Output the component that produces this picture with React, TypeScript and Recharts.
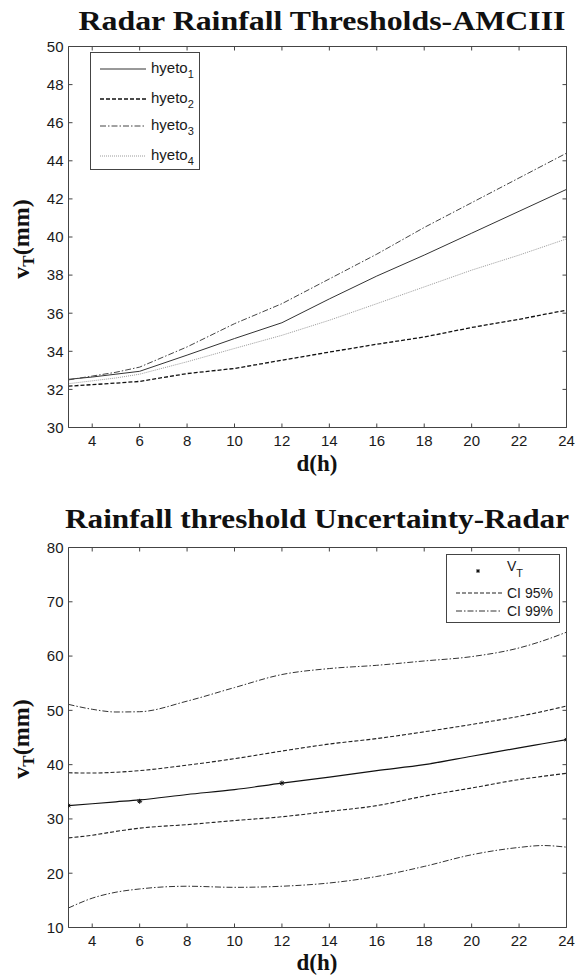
import React from 'react';
import { LineChart, Line, XAxis, YAxis, Legend } from 'recharts';

// Radar rainfall thresholds (AMC III) per hyetograph shape, mm vs duration
const hours = [3, 4, 5, 6, 8, 10, 12, 14, 16, 18, 20, 22, 24];
const hyeto1 = [32.53, 32.65, 32.8, 32.95, 33.8, 34.67, 35.5, 36.75, 37.95, 39.05, 40.2, 41.35, 42.5];
const hyeto2 = [32.17, 32.25, 32.33, 32.42, 32.83, 33.1, 33.53, 33.96, 34.37, 34.75, 35.25, 35.68, 36.16];
const hyeto3 = [32.5, 32.7, 32.9, 33.17, 34.23, 35.45, 36.5, 37.8, 39.1, 40.5, 41.8, 43.1, 44.4];
const hyeto4 = [32.3, 32.45, 32.6, 32.8, 33.45, 34.15, 34.84, 35.63, 36.5, 37.38, 38.26, 39.05, 39.9];

// Threshold uncertainty: fitted curve and confidence bands
const bandHours = [3, 4, 5, 6, 8, 10, 12, 14, 16, 18, 20, 22, 23, 24];
const vtFit = [32.45, 32.8, 33.15, 33.5, 34.5, 35.4, 36.6, 37.7, 38.9, 40.0, 41.55, 43.1, 43.85, 44.6];
const ci95Upper = [38.5, 38.45, 38.6, 38.9, 39.9, 41.1, 42.5, 43.8, 44.8, 46.05, 47.4, 48.9, 49.8, 50.8];
const ci95Lower = [26.5, 27.0, 27.7, 28.3, 28.95, 29.7, 30.4, 31.4, 32.45, 34.2, 35.7, 37.25, 37.85, 38.4];
const ci99Upper = [51.1, 50.2, 49.7, 49.75, 51.7, 54.2, 56.6, 57.7, 58.3, 59.1, 59.9, 61.5, 62.8, 64.4];
const ci99Lower = [13.6, 15.4, 16.5, 17.1, 17.6, 17.4, 17.6, 18.2, 19.4, 21.25, 23.4, 24.75, 25.1, 24.8];

// Observed thresholds
const vtHours = [3, 6, 12, 24];
const vtValues = [32.45, 33.25, 36.6, 44.6];

const dTicks = [4, 6, 8, 10, 12, 14, 16, 18, 20, 22, 24];
const topTicks = [30, 32, 34, 36, 38, 40, 42, 44, 46, 48, 50];
const bottomTicks = [10, 20, 30, 40, 50, 60, 70, 80];

const thresholdRows = hours.map((d, i) => ({
  d,
  h1: hyeto1[i],
  h2: hyeto2[i],
  h3: hyeto3[i],
  h4: hyeto4[i],
}));

const bandRows = bandHours.map((d, i) => ({
  d,
  fit: vtFit[i],
  u95: ci95Upper[i],
  l95: ci95Lower[i],
  u99: ci99Upper[i],
  l99: ci99Lower[i],
}));

const vtRows = vtHours.map((d, i) => ({ d, vt: vtValues[i] }));

const FRAME = '#444';
const TICK_FONT = { fill: '#1a1a1a', fontSize: 15, fontFamily: 'Liberation Sans, Arial, sans-serif' };
const SERIF = 'Liberation Serif, Times New Roman, serif';
const TICK_PX = 4;

// plot box edges (page pixels), shared by the charts and the frame overlay
const PLOT_LEFT = 68.5;
const PLOT_RIGHT = 566.5;
const TOP_BOX = { top: 46.5, bottom: 427.5 };
const BOTTOM_BOX = { top: 547.5, bottom: 927.5 };

const styles = {
  h1: { stroke: '#333', dash: undefined as string | undefined, width: 1 },
  h2: { stroke: '#111', dash: '4 2', width: 1.3 },
  h3: { stroke: '#444', dash: '6 2 1.5 2', width: 1 },
  h4: { stroke: '#9a9a9a', dash: '1 1', width: 1 },
  ci95: { stroke: '#222', dash: '4 2', width: 1.1 },
  ci99: { stroke: '#333', dash: '6 2 1.5 2', width: 1 },
};

// bottom and left axes, ticks pointing into the plot
function axes(yDomain: number[], yTicks: number[]) {
  return [
    <XAxis
      key="xb"
      dataKey="d"
      type="number"
      domain={[3, 24]}
      ticks={dTicks}
      allowDataOverflow
      height={30}
      tickSize={-TICK_PX}
      tickMargin={12}
      tick={TICK_FONT}
      axisLine={{ stroke: FRAME }}
      tickLine={{ stroke: FRAME }}
    />,
    <YAxis
      key="yl"
      type="number"
      domain={yDomain}
      ticks={yTicks}
      allowDataOverflow
      width={60}
      tickSize={-TICK_PX}
      tickMargin={9}
      tick={TICK_FONT}
      axisLine={{ stroke: FRAME }}
      tickLine={{ stroke: FRAME }}
    />,
  ];
}

// top and right edges of a plot box, with inward ticks like the axes
function BoxEdges({ top, bottom, yDomain, yTicks }: { top: number; bottom: number; yDomain: number[]; yTicks: number[] }) {
  const xPx = (t: number) => PLOT_LEFT + ((t - 3) / 21) * (PLOT_RIGHT - PLOT_LEFT);
  const yPx = (v: number) => bottom - ((v - yDomain[0]) / (yDomain[1] - yDomain[0])) * (bottom - top);
  return (
    <g stroke={FRAME} strokeWidth={1} fill="none">
      <path d={`M${PLOT_LEFT},${top}H${PLOT_RIGHT}V${bottom}`} />
      {dTicks.map((t) => (
        <line key={`t${t}`} x1={xPx(t)} x2={xPx(t)} y1={top} y2={top + TICK_PX} />
      ))}
      {yTicks.map((v) => (
        <line key={`r${v}`} x1={PLOT_RIGHT} x2={PLOT_RIGHT - TICK_PX} y1={yPx(v)} y2={yPx(v)} />
      ))}
    </g>
  );
}

function Asterisk({ cx, cy, r = 2.5 }: { cx: number; cy: number; r?: number }) {
  const d = r * 0.7;
  return (
    <path
      d={`M${cx - r},${cy}L${cx + r},${cy}M${cx},${cy - r}L${cx},${cy + r}M${cx - d},${cy - d}L${cx + d},${cy + d}M${cx - d},${cy + d}L${cx + d},${cy - d}`}
      stroke="#111"
      strokeWidth={1}
      fill="none"
    />
  );
}

function Sample({ y, s }: { y: number; s: { stroke: string; dash?: string; width: number } }) {
  return <line x1={9} x2={55} y1={y} y2={y} stroke={s.stroke} strokeDasharray={s.dash} strokeWidth={s.width} />;
}

function HyetoLegend() {
  const rows: [string, keyof typeof styles, number][] = [
    ['1', 'h1', 16],
    ['2', 'h2', 46],
    ['3', 'h3', 73],
    ['4', 'h4', 103],
  ];
  return (
    <svg width={110} height={118} style={{ display: 'block', background: '#fff', border: `1px solid ${FRAME}`, boxSizing: 'border-box' }}>
      {rows.map(([n, k, y]) => (
        <g key={k}>
          <Sample y={y} s={styles[k]} />
          <text x={60} y={y + 4} fontSize={15} fontFamily="Liberation Sans, Arial, sans-serif" fill="#1a1a1a">
            hyeto
            <tspan fontSize={11} dy={5}>{n}</tspan>
          </text>
        </g>
      ))}
    </svg>
  );
}

function BandLegend() {
  const font = 'Liberation Sans, Arial, sans-serif';
  return (
    <svg width={114} height={69} style={{ display: 'block', background: '#fff', border: `1px solid ${FRAME}`, boxSizing: 'border-box' }}>
      <Asterisk cx={31} cy={16} r={2} />
      <text x={60} y={16} fontSize={14} fontFamily={font} fill="#1a1a1a">
        V
        <tspan fontSize={11} dy={6}>T</tspan>
      </text>
      <Sample y={38} s={styles.ci95} />
      <text x={60} y={43} fontSize={14} fontFamily={font} fill="#1a1a1a">CI 95%</text>
      <Sample y={56} s={styles.ci99} />
      <text x={60} y={61} fontSize={14} fontFamily={font} fill="#1a1a1a">CI 99%</text>
    </svg>
  );
}

function Overlay() {
  const yLabel = (cy: number) => (
    <text transform={`translate(29,${cy}) rotate(-90)`} textAnchor="middle" fontSize={24} fontWeight="bold" fontFamily={SERIF} fill="#111">
      v<tspan fontSize={17} dy={5}>T</tspan>
      <tspan dy={-5}>(mm)</tspan>
    </text>
  );
  return (
    <svg width={575} height={976} style={{ position: 'absolute', left: 0, top: 0, pointerEvents: 'none' }}>
      <BoxEdges top={TOP_BOX.top} bottom={TOP_BOX.bottom} yDomain={[30, 50]} yTicks={topTicks} />
      <BoxEdges top={BOTTOM_BOX.top} bottom={BOTTOM_BOX.bottom} yDomain={[10, 80]} yTicks={bottomTicks} />
      <text x={322} y={29.5} textAnchor="middle" fontSize={27} fontWeight="bold" fontFamily={SERIF} fill="#111" textLength={487} lengthAdjust="spacingAndGlyphs">
        Radar Rainfall Thresholds-AMCIII
      </text>
      <text x={317} y={527.5} textAnchor="middle" fontSize={27} fontWeight="bold" fontFamily={SERIF} fill="#111" textLength={504} lengthAdjust="spacingAndGlyphs">
        Rainfall threshold Uncertainty-Radar
      </text>
      {yLabel(239)}
      {yLabel(739)}
      <text x={317} y={471} textAnchor="middle" fontSize={23} fontWeight="bold" fontFamily={SERIF} fill="#111">d(h)</text>
      <text x={317} y={970} textAnchor="middle" fontSize={23} fontWeight="bold" fontFamily={SERIF} fill="#111">d(h)</text>
    </svg>
  );
}

export default function App() {
  return (
    <div style={{ position: 'absolute', left: 0, top: 0, width: 575, height: 976, background: '#fff', overflow: 'hidden' }}>
      <div style={{ position: 'absolute', left: 0, top: 0 }}>
        <LineChart width={575} height={470} data={thresholdRows} margin={{ top: 46.5, right: 8.5, left: 8.5, bottom: 12.5 }}>
          {axes([30, 50], topTicks)}
          <Legend
            layout="vertical"
            align="center"
            verticalAlign="middle"
            wrapperStyle={{ left: 90, top: 52, width: 110, height: 118 }}
            content={() => <HyetoLegend />}
          />
          {(['h1', 'h2', 'h3', 'h4'] as const).map((k) => (
            <Line
              key={k}
              dataKey={k}
              type="linear"
              stroke={styles[k].stroke}
              strokeDasharray={styles[k].dash}
              strokeWidth={styles[k].width}
              dot={false}
              activeDot={false}
              isAnimationActive={false}
            />
          ))}
        </LineChart>
      </div>
      <div style={{ position: 'absolute', left: 0, top: 490 }}>
        <LineChart width={575} height={486} data={bandRows} margin={{ top: 57.5, right: 8.5, left: 8.5, bottom: 18.5 }}>
          {axes([10, 80], bottomTicks)}
          <Legend
            layout="vertical"
            align="center"
            verticalAlign="middle"
            wrapperStyle={{ left: 445.7, top: 64.3, width: 114, height: 69 }}
            content={() => <BandLegend />}
          />
          <Line dataKey="u99" type="monotone" stroke={styles.ci99.stroke} strokeDasharray={styles.ci99.dash} strokeWidth={styles.ci99.width} dot={false} activeDot={false} isAnimationActive={false} />
          <Line dataKey="l99" type="monotone" stroke={styles.ci99.stroke} strokeDasharray={styles.ci99.dash} strokeWidth={styles.ci99.width} dot={false} activeDot={false} isAnimationActive={false} />
          <Line dataKey="u95" type="monotone" stroke={styles.ci95.stroke} strokeDasharray={styles.ci95.dash} strokeWidth={styles.ci95.width} dot={false} activeDot={false} isAnimationActive={false} />
          <Line dataKey="l95" type="monotone" stroke={styles.ci95.stroke} strokeDasharray={styles.ci95.dash} strokeWidth={styles.ci95.width} dot={false} activeDot={false} isAnimationActive={false} />
          <Line dataKey="fit" type="monotone" stroke="#111" strokeWidth={1.2} dot={false} activeDot={false} isAnimationActive={false} />
          <Line
            data={vtRows}
            dataKey="vt"
            stroke="none"
            activeDot={false}
            isAnimationActive={false}
            dot={(p: any) => <Asterisk key={`vt-${p.index}`} cx={p.cx} cy={p.cy} />}
          />
        </LineChart>
      </div>
      <Overlay />
    </div>
  );
}
